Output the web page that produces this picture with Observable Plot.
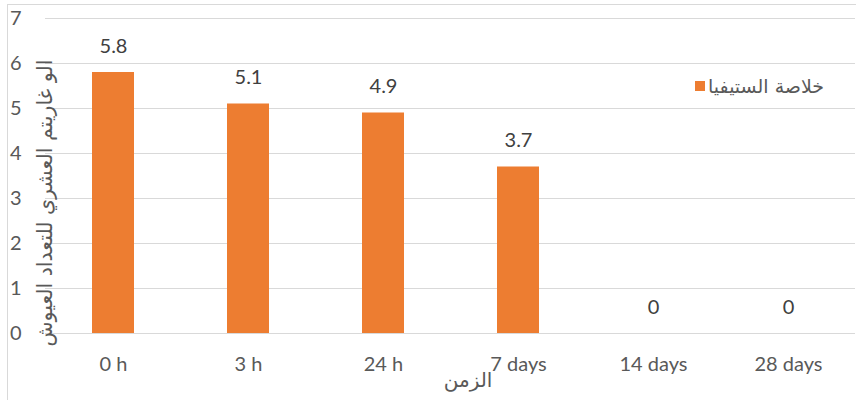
<!DOCTYPE html>
<html>
<head>
<meta charset="utf-8">
<script src="https://cdn.jsdelivr.net/npm/d3@7"></script>
<script src="https://cdn.jsdelivr.net/npm/@observablehq/plot@0.6"></script>
<style>
  html, body { margin: 0; padding: 0; background: #fff; }
  #wrap { position: relative; width: 856px; height: 400px; overflow: hidden; font-family: Lato, "DejaVu Sans", sans-serif; }
  #frame { position: absolute; left: 7px; top: 4px; width: 860px; height: 410px; border: 1px solid #d9d9d9; box-sizing: border-box; pointer-events: none; }
  #legend { position: absolute; left: 695px; top: 75px; display: flex; align-items: center; gap: 3px; color: #595959; font-size: 19px; font-family: "DejaVu Sans", sans-serif; }
  #legend .sw { width: 10px; height: 10px; background: #ED7D31; }
  #xtitle { position: absolute; left: 468px; transform: translateX(-50%); top: 368px; color: #595959; font-size: 20px; font-family: "DejaVu Sans", sans-serif; white-space: nowrap; }
</style>
</head>
<body>
<div id="wrap">
  <div id="chart"></div>
  <div id="frame"></div>
  <div id="legend"><span class="sw"></span><span dir="rtl">خلاصة الستيفيا</span></div>
  <div id="xtitle" dir="rtl">الزمن</div>
</div>
<script>
const categories = ["0 h", "3 h", "24 h", "7 days", "14 days", "28 days"];
const values = [5.8, 5.1, 4.9, 3.7, 0, 0];
const yTicks = [0, 1, 2, 3, 4, 5, 6, 7];
const yTitle = "الو غاريتم العشري للتعداد العيوش";

const data = categories.map((c, i) => ({cat: c, v: values[i]}));

const chart = Plot.plot({
  width: 856,
  height: 400,
  marginLeft: 45,
  marginRight: 1,
  marginTop: 18,
  marginBottom: 67,
  style: {fontFamily: "Lato, 'DejaVu Sans', sans-serif", color: "#595959", background: "transparent"},
  x: {domain: categories, paddingInner: 0.69, paddingOuter: 0.345, label: null},
  y: {domain: [0, 7], ticks: yTicks, label: null},
  marks: [
    Plot.gridY(yTicks, {stroke: "#d9d9d9", strokeOpacity: 1, strokeWidth: 1}),
    Plot.barY(data, {x: "cat", y: "v", fill: "#ED7D31"}),
    Plot.text(data, {x: "cat", y: "v", text: d => String(d.v), dy: -26, fontSize: 20, fill: "#404040", lineAnchor: "middle"}),
    Plot.axisX({tickSize: 0, tickPadding: 23, fontSize: 20, fill: "#595959"}),
    Plot.axisY(yTicks, {tickSize: 0, tickPadding: 24, fontSize: 20, fill: "#595959", tickFormat: d => String(d)}),
    Plot.text([yTitle], {frameAnchor: "left", textAnchor: "middle", lineAnchor: "middle", rotate: -90, dx: 0, dy: 27, fontSize: 20.5, fill: "#595959", fontFamily: "DejaVu Sans, sans-serif"})
  ]
});
document.getElementById("chart").appendChild(chart);
</script>
</body>
</html>
